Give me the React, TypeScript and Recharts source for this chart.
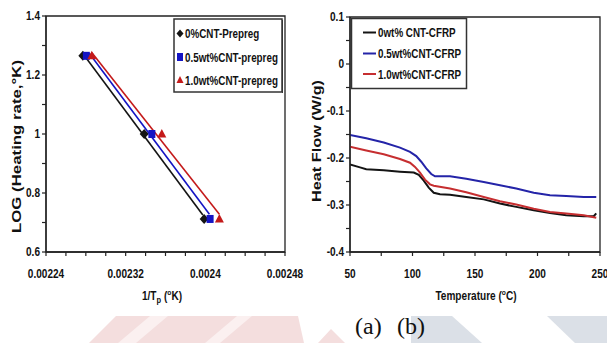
import { ScatterChart, Scatter, LineChart, Line, XAxis, YAxis, ReferenceArea } from 'recharts'

// ---------- (a) Kissinger plot: LOG(heating rate) vs 1/Tp ----------
const logRate = [1.265, 1.0, 0.712]
const invTp0 = [0.002277, 0.0023386, 0.0023988]
const invTp05 = [0.0022805, 0.0023463, 0.0024048]
const invTp10 = [0.002286, 0.0023563, 0.0024141]

// linear fit lines, end points
const fit0X = [0.0022794, 0.0023975]
const fit0Y = [1.262, 0.7254]
const fit05X = [0.0022834, 0.0024041]
const fit05Y = [1.2736, 0.7278]
const fit10X = [0.0022861, 0.0024141]
const fit10Y = [1.2756, 0.7278]

const aXMajor = [0.00224, 0.00232, 0.0024, 0.00248]
const aXMinor = [0.00226, 0.00228, 0.0023, 0.00234, 0.00236, 0.00238, 0.00242, 0.00244, 0.00246]
const aYMajor = [0.6, 0.8, 1, 1.2, 1.4]
const aYMinor = [0.7, 0.9, 1.1, 1.3]
const aNames = ['0%CNT-Prepreg', '0.5wt%CNT-prepreg', '1.0wt%CNT-prepreg']

// ---------- (b) DSC heat flow vs temperature ----------
const tBlack = [50, 58, 63, 77, 90, 101, 105, 109, 113, 117, 122, 130, 143, 157, 170, 183, 197, 210, 223, 237, 245, 247]
const hfBlack = [-0.214, -0.22, -0.224, -0.226, -0.229, -0.231, -0.236, -0.248, -0.263, -0.274, -0.277, -0.278, -0.283, -0.288, -0.297, -0.304, -0.311, -0.317, -0.322, -0.324, -0.324, -0.318]
const tBlue = [50, 63, 77, 90, 98, 103, 107, 111, 115, 118, 130, 143, 157, 170, 183, 197, 210, 223, 237, 247]
const hfBlue = [-0.151, -0.158, -0.167, -0.178, -0.187, -0.196, -0.208, -0.222, -0.234, -0.239, -0.239, -0.244, -0.251, -0.258, -0.265, -0.274, -0.279, -0.281, -0.283, -0.283]
const tRed = [50, 63, 77, 90, 98, 102, 106, 110, 114, 117, 130, 143, 157, 170, 183, 197, 210, 223, 237, 247]
const hfRed = [-0.176, -0.184, -0.192, -0.202, -0.21, -0.219, -0.231, -0.246, -0.256, -0.259, -0.265, -0.273, -0.283, -0.292, -0.299, -0.308, -0.315, -0.318, -0.322, -0.327]

const bXMajor = [50, 100, 150, 200, 250]
const bXMinor = [75, 125, 175, 225]
const bYMajor = [-0.4, -0.3, -0.2, -0.1, 0, 0.1]
const bYMinor = [-0.35, -0.25, -0.15, -0.05, 0.05]
const bNames = ['0wt% CNT-CFRP', '0.5wt%CNT-CFRP', '1.0wt%CNT-CFRP']

const COLORS = {
  black: '#141414',
  blue: '#2424a8',
  red: '#c62e30',
  markBlue: '#1414c4',
  markRed: '#c41a1a',
  axis: '#222',
  text: '#111',
} as const

const SANS = '"Liberation Sans", Arial, sans-serif'
const tickFont = { fontFamily: SANS, fontSize: 12, fontWeight: 700, fill: COLORS.text }

const pts = (xs: number[], ys: number[]) => xs.map((x, i) => ({ x, y: ys[i] }))
const series = (ts: number[], vs: number[]) => ts.map((t, i) => ({ t, v: vs[i] }))

const isIn = (list: number[], v: number) => list.some((m) => Math.abs(m - v) < 1e-9)

type TickProps = { x?: number; y?: number; payload?: { value: number } }

function makeBottomTick(majors: number[]) {
  return function BottomTick({ x = 0, y = 0, payload }: TickProps) {
    const v = payload?.value ?? 0
    return (
      <g>
        <line x1={x} x2={x} y1={y} y2={y + 4} stroke={COLORS.axis} strokeWidth={1.2} />
        {isIn(majors, v) && (
          <text transform={`translate(${x},${y + 26}) scale(0.84,1)`} textAnchor="middle" style={tickFont}>
            {String(v)}
          </text>
        )}
      </g>
    )
  }
}

function makeLeftTick(majors: number[]) {
  return function LeftTick({ x = 0, y = 0, payload }: TickProps) {
    const v = payload?.value ?? 0
    return (
      <g>
        <line x1={x} x2={x - 4} y1={y} y2={y} stroke={COLORS.axis} strokeWidth={1.2} />
        {isIn(majors, v) && (
          <text transform={`translate(${x - 6},${y + 4}) scale(0.84,1)`} textAnchor="end" style={tickFont}>
            {String(v)}
          </text>
        )}
      </g>
    )
  }
}

type ShapeProps = { cx?: number; cy?: number }
const Diamond = ({ cx = 0, cy = 0 }: ShapeProps) => (
  <polygon points={`${cx},${cy - 5} ${cx + 4.5},${cy} ${cx},${cy + 5} ${cx - 4.5},${cy}`} fill={COLORS.black} />
)
const Square = ({ cx = 0, cy = 0 }: ShapeProps) => (
  <rect x={cx - 3.5} y={cy - 4} width={7} height={8} fill={COLORS.markBlue} />
)
const Triangle = ({ cx = 0, cy = 0 }: ShapeProps) => (
  <polygon points={`${cx},${cy - 5} ${cx + 4.5},${cy + 3.5} ${cx - 4.5},${cy + 3.5}`} fill={COLORS.markRed} />
)
const NoShape = () => <g />

const axisLine = { stroke: COLORS.axis, strokeWidth: 1.3 }

function KissingerChart() {
  return (
    <ScatterChart width={330} height={300} margin={{ top: 16, right: 45, bottom: 0, left: 0 }}>
      <XAxis
        type="number"
        dataKey="x"
        domain={[0.00224, 0.00248]}
        allowDataOverflow
        ticks={[...aXMajor, ...aXMinor]}
        interval={0}
        tickSize={0}
        tickMargin={0}
        tick={makeBottomTick(aXMajor)}
        axisLine={axisLine}
        height={48}
      />
      <YAxis
        type="number"
        dataKey="y"
        domain={[0.6, 1.4]}
        allowDataOverflow
        ticks={[...aYMajor, ...aYMinor]}
        interval={0}
        tickSize={0}
        tickMargin={0}
        tick={makeLeftTick(aYMajor)}
        axisLine={axisLine}
        width={46}
      />
      <ReferenceArea x1={0.00224} x2={0.00248} y1={0.6} y2={1.4} fill="none" stroke={COLORS.axis} strokeWidth={1.3} />
      <Scatter data={pts(fit0X, fit0Y)} line={{ stroke: COLORS.black, strokeWidth: 1.6 }} shape={NoShape} isAnimationActive={false} />
      <Scatter data={pts(fit05X, fit05Y)} line={{ stroke: COLORS.markBlue, strokeWidth: 1.6 }} shape={NoShape} isAnimationActive={false} />
      <Scatter data={pts(fit10X, fit10Y)} line={{ stroke: COLORS.markRed, strokeWidth: 1.6 }} shape={NoShape} isAnimationActive={false} />
      <Scatter data={pts(invTp0, logRate)} shape={Diamond} isAnimationActive={false} />
      <Scatter data={pts(invTp05, logRate)} shape={Square} isAnimationActive={false} />
      <Scatter data={pts(invTp10, logRate)} shape={Triangle} isAnimationActive={false} />
    </ScatterChart>
  )
}

function HeatFlowChart() {
  return (
    <LineChart width={307} height={300} margin={{ top: 17, right: 7, bottom: 0, left: 0 }}>
      <XAxis
        type="number"
        dataKey="t"
        domain={[50, 250]}
        allowDataOverflow
        ticks={[...bXMajor, ...bXMinor]}
        interval={0}
        tickSize={0}
        tickMargin={0}
        tick={makeBottomTick(bXMajor)}
        axisLine={axisLine}
        height={48}
      />
      <YAxis
        type="number"
        domain={[-0.4, 0.1]}
        allowDataOverflow
        ticks={[...bYMajor, ...bYMinor]}
        interval={0}
        tickSize={0}
        tickMargin={0}
        tick={makeLeftTick(bYMajor)}
        axisLine={axisLine}
        width={50}
      />
      <ReferenceArea x1={50} x2={250} y1={-0.4} y2={0.1} fill="none" stroke={COLORS.axis} strokeWidth={1.3} />
      <Line data={series(tBlack, hfBlack)} dataKey="v" stroke={COLORS.black} strokeWidth={2} dot={false} type="linear" isAnimationActive={false} />
      <Line data={series(tBlue, hfBlue)} dataKey="v" stroke={COLORS.blue} strokeWidth={2} dot={false} type="linear" isAnimationActive={false} />
      <Line data={series(tRed, hfRed)} dataKey="v" stroke={COLORS.red} strokeWidth={2} dot={false} type="linear" isAnimationActive={false} />
    </LineChart>
  )
}

const legendText = { fontFamily: SANS, fontSize: 12, fontWeight: 700, fill: COLORS.text }

function Overlay() {
  const aMarkers = [
    (y: number) => <polygon points={`180,${y - 4} 183.5,${y} 180,${y + 4} 176.5,${y}`} fill={COLORS.black} />,
    (y: number) => <rect x={177} y={y - 4} width={6} height={8} fill={COLORS.markBlue} />,
    (y: number) => <polygon points={`180,${y - 4} 183.5,${y + 3} 176.5,${y + 3}`} fill={COLORS.markRed} />,
  ]
  const aRows = [33.5, 57, 80]
  const bRows = [32.5, 53.5, 74]
  const bColors = [COLORS.black, COLORS.blue, COLORS.red]
  const titleFont = { fontFamily: SANS, fontSize: 12, fontWeight: 700, fill: COLORS.text }
  return (
    <svg width={607} height={343} style={{ position: 'absolute', left: 0, top: 0, pointerEvents: 'none' }}>
      {/* legend (a) */}
      <rect x={174} y={19} width={108} height={73} fill="#fff" stroke="#333" strokeWidth={1.5} />
      <line x1={282.5} x2={282.5} y1={20} y2={93} stroke="#333" strokeWidth={1} />
      {aNames.map((n, i) => (
        <g key={n}>
          {aMarkers[i](aRows[i])}
          <text transform={`translate(185,${aRows[i] + 4.5}) scale(0.82,1)`} style={legendText}>
            {n}
          </text>
        </g>
      ))}
      {/* legend (b) */}
      <rect x={351.5} y={18.5} width={115} height={70} fill="#fff" stroke="#333" strokeWidth={1.5} />
      {bNames.map((n, i) => (
        <g key={n}>
          <line x1={363} x2={376} y1={bRows[i]} y2={bRows[i]} stroke={bColors[i]} strokeWidth={2} />
          <text transform={`translate(378,${bRows[i] + 4.5}) scale(0.82,1)`} style={legendText}>
            {n}
          </text>
        </g>
      ))}
      {/* axis titles */}
      <text transform="translate(20.5,146.5) rotate(-90)" textAnchor="middle" textLength={173} lengthAdjust="spacingAndGlyphs" style={titleFont}>
        LOG (Heating rate,°K)
      </text>
      <text transform="translate(320.5,141) rotate(-90)" textAnchor="middle" textLength={122} lengthAdjust="spacingAndGlyphs" style={titleFont}>
        Heat Flow (W/g)
      </text>
      <text transform="translate(162,300) scale(0.84,1)" textAnchor="middle" style={titleFont}>
        1/T<tspan dy={3} fontSize={9}>p</tspan>
        <tspan dy={-3}> (</tspan>
        <tspan dy={-5} fontSize={8}>o</tspan>
        <tspan dy={5}>K)</tspan>
      </text>
      <text transform="translate(476,300) scale(0.84,1)" textAnchor="middle" style={titleFont}>
        Temperature (<tspan dy={-5} fontSize={8}>o</tspan>
        <tspan dy={5}>C)</tspan>
      </text>
      {/* caption */}
      <text x={355} y={334} style={{ fontFamily: '"Liberation Serif", "Times New Roman", serif', fontSize: 24, fill: COLORS.text }}>
        (a)
      </text>
      <text x={397} y={334} style={{ fontFamily: '"Liberation Serif", "Times New Roman", serif', fontSize: 24, fill: COLORS.text }}>
        (b)
      </text>
    </svg>
  )
}

function Watermark() {
  return (
    <svg width={607} height={343} style={{ position: 'absolute', left: 0, top: 0 }}>
      <polygon points="89,343 116,316 298,316 304,343" fill="#f4dede" />
      <polygon points="118,343 150,316 168,316 136,343" fill="#fbf0f0" />
      <polygon points="205,343 237,316 252,316 220,343" fill="#fbf0f0" />
      <polygon points="318,343 331,329 345,343" fill="#f4dede" />
      <polygon points="411,316 452,316 482,343 411,343" fill="#dbe0e7" />
      <polygon points="547,316 607,316 607,343 575,343" fill="#dbe0e7" />
    </svg>
  )
}

export default function App() {
  return (
    <div style={{ position: 'absolute', left: 0, top: 0, width: 607, height: 343, background: '#fff', overflow: 'hidden' }}>
      <Watermark />
      <div style={{ position: 'absolute', left: 300, top: 0 }}>
        <HeatFlowChart />
      </div>
      <div style={{ position: 'absolute', left: 0, top: 0 }}>
        <KissingerChart />
      </div>
      <Overlay />
    </div>
  )
}
